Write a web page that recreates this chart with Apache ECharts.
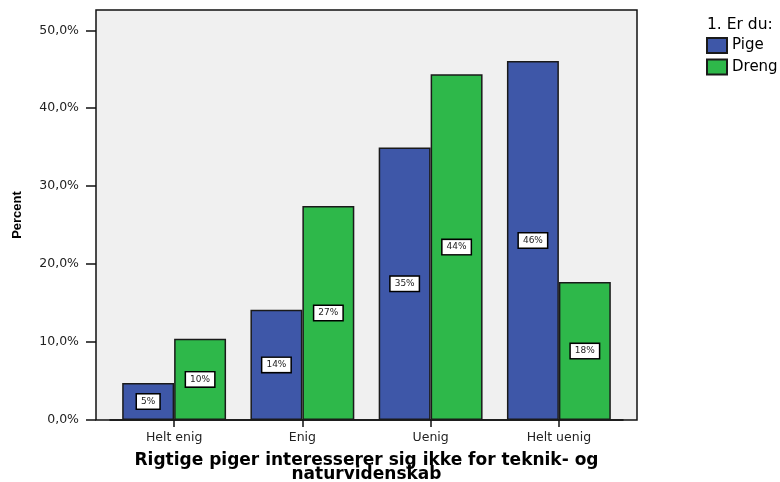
<!DOCTYPE html>
<html><head><meta charset="utf-8">
<script src="https://cdn.jsdelivr.net/npm/echarts@6/dist/echarts.min.js"></script>
<style>html,body{margin:0;padding:0;background:#fff}#c{width:780px;height:482px}</style>
</head><body><div id="c"></div>
<script>
const categories = ['Helt enig', 'Enig', 'Uenig', 'Helt uenig'];
const pigeValues = [4.74, 14.14, 34.95, 46.06];
const drengValues = [10.42, 27.45, 44.36, 17.69];
const yTicks = [0, 10, 20, 30, 40, 50];
const seriesNames = ['Pige', 'Dreng'];
const legendTitle = '1. Er du:';
const xTitle = 'Rigtige piger interesserer sig ikke for teknik- og\nnaturvidenskab';
const yTitle = 'Percent';

const FONT = 'DejaVu Sans, sans-serif';
const chart = echarts.init(document.getElementById('c'), null, {renderer: 'canvas'});
const labelOpt = {
  show: true, position: 'inside',
  formatter: p => Math.round(p.value) + '%',
  backgroundColor: '#fff', borderColor: '#000', borderWidth: 1.5,
  padding: [3, 4, 2, 4], fontSize: 9, color: '#222', fontFamily: FONT
};
chart.setOption({
  animation: false,
  backgroundColor: '#fff',
  title: {text: legendTitle, left: 702, top: 12, textStyle: {fontSize: 15.5, fontWeight: 'normal', color: '#000', fontFamily: FONT}},
  legend: {
    orient: 'vertical', left: 701, top: 32, itemWidth: 20, itemHeight: 15, itemGap: 4.5,
    icon: 'rect',
    data: seriesNames,
    textStyle: {fontSize: 15, color: '#000', fontFamily: FONT}
  },
  grid: [
    {left: 110, right: 157, top: 10, bottom: 62, show: false, outerBoundsMode: 'none', containLabel: false},
    {left: 96, right: 143, top: 10, bottom: 62, show: true, backgroundColor: '#f0f0f0', borderColor: '#111', borderWidth: 1.5, z: -1, outerBoundsMode: 'none', containLabel: false}
  ],
  xAxis: [
    {
      type: 'category', data: categories, gridIndex: 0,
      axisLine: {show: true, lineStyle: {color: '#111', width: 1.5}},
      axisTick: {show: true, alignWithLabel: true, length: 7, lineStyle: {color: '#111', width: 1.5}},
      axisLabel: {fontSize: 12.5, color: '#222', margin: 11, fontFamily: FONT},
      name: xTitle, nameLocation: 'middle', nameGap: 33,
      nameTextStyle: {fontSize: 17, fontWeight: 'bold', color: '#000', lineHeight: 14.5, fontFamily: FONT}
    },
    {type: 'value', gridIndex: 1, show: false, min: 0, max: 1}
  ],
  yAxis: [
    {
      type: 'value', gridIndex: 0, min: 0, max: 52.6, interval: 10, offset: 14,
      axisLine: {show: false},
      axisTick: {show: true, length: 10, customValues: yTicks, lineStyle: {color: '#111', width: 1.5}},
      axisLabel: {customValues: yTicks, fontSize: 12.5, color: '#222', margin: 17, fontFamily: FONT,
        formatter: v => v.toFixed(1).replace('.', ',') + '%'},
      splitLine: {show: false},
      name: yTitle, nameLocation: 'middle', nameGap: 72,
      nameTextStyle: {fontSize: 13, fontWeight: 'bold', color: '#000', fontFamily: 'Liberation Sans, Arial, sans-serif'}
    },
    {type: 'value', gridIndex: 1, show: false, min: 0, max: 1}
  ],
  series: [
    {name: seriesNames[0], type: 'bar', data: pigeValues, barGap: '0%', barCategoryGap: '19%',
      itemStyle: {color: '#3e57a8', borderColor: '#1a1a1a', borderWidth: 1.5}, label: labelOpt},
    {name: seriesNames[1], type: 'bar', data: drengValues, barGap: '0%', barCategoryGap: '19%',
      itemStyle: {color: '#2eb84a', borderColor: '#1a1a1a', borderWidth: 1.5}, label: labelOpt}
  ]
});
</script></body></html>
